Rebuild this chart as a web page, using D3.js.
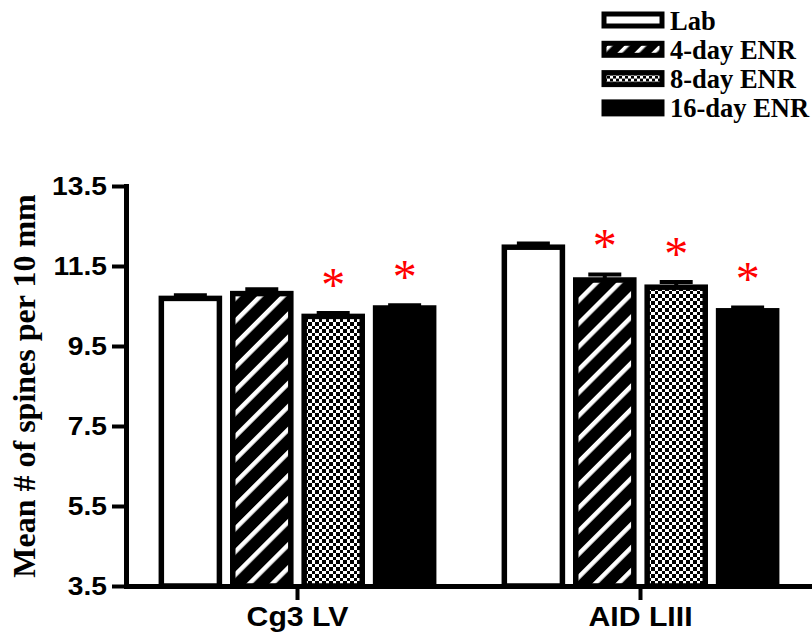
<!DOCTYPE html>
<html>
<head>
<meta charset="utf-8">
<script src="https://cdn.jsdelivr.net/npm/d3@7"></script>
<style>
  body { margin: 0; background: #fff; }
  svg { display: block; }
</style>
</head>
<body>
<div id="chart"></div>
<script>
// values
const groups = ["Cg3 LV", "AID LIII"]
const series = ["Lab", "4-day ENR", "8-day ENR", "16-day ENR"]
const cg3_means = [10.69, 10.81, 10.24, 10.45]
const cg3_sem = [0.08, 0.11, 0.085, 0.07]
const aid_means = [11.97, 11.15, 10.97, 10.38]
const aid_sem = [0.09, 0.14, 0.13, 0.085]
const cg3_signif = [false, false, true, true]
const aid_signif = [false, true, true, true]
const y_ticks = [3.5, 5.5, 7.5, 9.5, 11.5, 13.5]

const width = 812, height = 634
const sans = "'Liberation Sans', Arial, sans-serif"
const serif = "'Liberation Serif', 'Times New Roman', serif"
const bar_stroke = 5.5

const rows = [
    { group: groups[0], means: cg3_means, sem: cg3_sem, signif: cg3_signif },
    { group: groups[1], means: aid_means, sem: aid_sem, signif: aid_signif }
]
const data = rows.flatMap(r => series.map((s, i) => ({
    group: r.group, series: s, index: i, mean: r.means[i], sem: r.sem[i], signif: r.signif[i]
})))

const svg = d3.select("#chart").append("svg")
    .attr("width", width)
    .attr("height", height)

// fill patterns
const defs = svg.append("defs")

function stripes(id, size, stripe) {
    const p = defs.append("pattern")
        .attr("id", id)
        .attr("patternUnits", "userSpaceOnUse")
        .attr("width", size).attr("height", size)
        .attr("patternTransform", "rotate(45)")
    p.append("rect").attr("width", size).attr("height", size).attr("fill", "#000")
    p.append("rect").attr("x", 0).attr("width", stripe).attr("height", size).attr("fill", "#fff")
}
function checker(id, cell) {
    const p = defs.append("pattern")
        .attr("id", id)
        .attr("patternUnits", "userSpaceOnUse")
        .attr("width", cell * 2).attr("height", cell * 2)
    p.append("rect").attr("width", cell * 2).attr("height", cell * 2).attr("fill", "#fff")
    p.append("rect").attr("width", cell).attr("height", cell).attr("fill", "#000")
        .attr("shape-rendering", "crispEdges")
    p.append("rect").attr("x", cell).attr("y", cell).attr("width", cell).attr("height", cell).attr("fill", "#000")
        .attr("shape-rendering", "crispEdges")
}
stripes("hatch", 16.3, 4.5)
stripes("hatch-legend", 12, 3.5)
checker("check", 3.5)
checker("check-legend", 3)

const fills = ["#fff", "url(#hatch)", "url(#check)", "#000"]
const legend_fills = ["#fff", "url(#hatch-legend)", "url(#check-legend)", "#000"]

// scales
const y = d3.scaleLinear().domain([3.5, 13.5]).range([586, 186])

const x = d3.scaleBand()
    .domain(groups)
    .range([126, 812])
    .paddingInner(0.19)
    .paddingOuter(0.095)

const x_sub = d3.scaleBand()
    .domain(series)
    .range([0, x.bandwidth()])
    .paddingInner(0.11)

// bars
const bars = svg.append("g")
bars.selectAll("rect")
    .data(data)
    .join("rect")
    .attr("x", d => x(d.group) + x_sub(d.series) + bar_stroke / 2)
    .attr("width", x_sub.bandwidth() - bar_stroke)
    .attr("y", d => y(d.mean))
    .attr("height", d => y(3.5) - y(d.mean))
    .attr("fill", d => fills[d.index])
    .attr("stroke", "#000")
    .attr("stroke-width", bar_stroke)

// error bars (upper only)
const cx = d => x(d.group) + x_sub(d.series) + x_sub.bandwidth() / 2
const err = svg.append("g").attr("stroke", "#000").attr("stroke-width", 4)
err.selectAll(".stem")
    .data(data)
    .join("line")
    .attr("class", "stem")
    .attr("x1", cx).attr("x2", cx)
    .attr("y1", d => y(d.mean)).attr("y2", d => y(d.mean + d.sem))
err.selectAll(".cap")
    .data(data)
    .join("line")
    .attr("class", "cap")
    .attr("x1", d => cx(d) - 16.5).attr("x2", d => cx(d) + 16.5)
    .attr("y1", d => y(d.mean + d.sem)).attr("y2", d => y(d.mean + d.sem))

// significance stars
svg.append("g")
    .selectAll("text")
    .data(data.filter(d => d.signif))
    .join("text")
    .attr("x", cx)
    .attr("y", d => y(d.mean + d.sem) - 12)
    .attr("text-anchor", "middle")
    .attr("fill", "#ff0000")
    .style("font-family", serif)
    .style("font-size", "48px")
    .text("*")

// axes
const y_axis = svg.append("g")
    .attr("transform", "translate(126,0)")
    .call(d3.axisLeft(y).tickValues(y_ticks).tickFormat(d3.format(".1f"))
        .tickSize(14).tickPadding(5).tickSizeOuter(0))
y_axis.select(".domain").attr("stroke-width", 5).attr("stroke-linecap", "square")
y_axis.selectAll(".tick line").attr("stroke-width", 4)
y_axis.selectAll(".tick text")
    .style("font-family", sans)
    .style("font-size", "25px")
    .style("font-weight", "bold")
    .attr("fill", "#000")
    .each(function() {
        // the original labels are a bit wider than Arial
        const t = d3.select(this), tx = +t.attr("x")
        t.attr("x", 0).attr("transform", `translate(${tx},0) scale(1.13,1)`)
    })

const x_axis = svg.append("g")
    .attr("transform", "translate(0,586)")
    .call(d3.axisBottom(x).tickSize(14).tickPadding(7).tickSizeOuter(0))
x_axis.select(".domain").attr("stroke-width", 5)
x_axis.selectAll(".tick line").attr("stroke-width", 4)
x_axis.selectAll(".tick text")
    .style("font-family", sans)
    .style("font-size", "27px")
    .style("font-weight", "bold")
    .attr("fill", "#000")
    .attr("transform", "scale(1.12,1)")

svg.append("text")
    .attr("transform", `translate(35, ${y(8.5)}) rotate(-90)`)
    .attr("text-anchor", "middle")
    .style("font-family", serif)
    .style("font-size", "32px")
    .style("font-weight", "bold")
    .text("Mean # of spines per 10 mm")

// legend
const legend = svg.append("g").attr("transform", "translate(604,20)")
const item = legend.selectAll("g")
    .data(series)
    .join("g")
    .attr("transform", (d, i) => `translate(0, ${i * 29.3})`)
item.append("rect")
    .attr("x", 0).attr("y", -6)
    .attr("width", 58).attr("height", 12)
    .attr("fill", (d, i) => legend_fills[i])
    .attr("stroke", "#000")
    .attr("stroke-width", 5)
item.append("text")
    .attr("x", 66).attr("y", 9.5)
    .style("font-family", serif)
    .style("font-size", "26.5px")
    .style("font-weight", "bold")
    .text(d => d)
</script>
</body>
</html>
